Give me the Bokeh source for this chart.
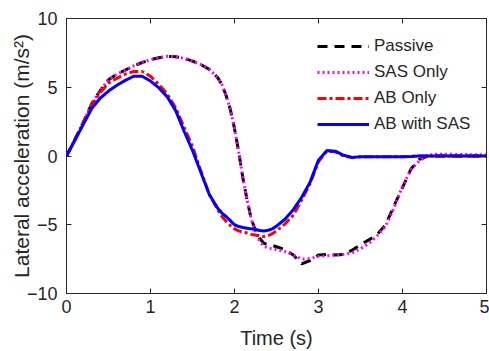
from bokeh.plotting import figure
from bokeh.models import LinearAxis, Range1d, Legend, LegendItem, FixedTicker
from bokeh.embed import file_html
from bokeh.resources import INLINE

time_s = [0, 0.1, 0.2, 0.3, 0.4, 0.5, 0.6, 0.7, 0.8, 0.9, 1.0, 1.1, 1.2, 1.3, 1.4, 1.5,
          1.6, 1.7, 1.8, 1.85, 1.9, 1.95, 2.0, 2.05, 2.1, 2.15, 2.2, 2.25, 2.3, 2.35,
          2.4, 2.45, 2.5, 2.6, 2.7, 2.8, 2.9, 3.0, 3.1, 3.2, 3.3, 3.4, 3.5, 3.6, 3.7,
          3.8, 3.9, 4.0, 4.1, 4.2, 4.3, 4.4, 4.6, 4.8, 5.0]

passive = [0, 1.2, 2.45, 3.8, 4.75, 5.55, 5.95, 6.25, 6.55, 6.8, 7.0, 7.15, 7.25, 7.22, 7.1, 6.9,
           6.65, 6.3, 5.7, 5.2, 4.4, 3.4, 2.0, 0.3, -1.6, -3.2, -4.6, -5.4, -6.0, -6.35,
           -6.45, -6.5, -6.6, -6.8, -7.2, -7.85, -7.6, -7.2, -7.15, -7.2, -7.15, -6.85, -6.45, -6.1, -5.7,
           -5.0, -3.6, -2.3, -0.95, -0.25, 0.0, 0.0, 0.0, 0.0, 0.0]

sas_only = [0, 1.2, 2.45, 3.8, 4.75, 5.55, 5.95, 6.25, 6.55, 6.8, 7.0, 7.15, 7.25, 7.22, 7.1, 6.9,
            6.65, 6.3, 5.7, 5.2, 4.4, 3.4, 2.0, 0.3, -1.6, -3.2, -4.6, -5.6, -6.2, -6.55,
            -6.7, -6.75, -6.8, -6.95, -7.2, -7.5, -7.45, -7.3, -7.25, -7.2, -7.15, -7.05, -6.75, -6.35, -5.8,
            -5.1, -3.75, -2.2, -1.0, -0.35, 0.05, 0.12, 0.12, 0.1, 0.1]

ab_only = [0, 1.2, 2.4, 3.7, 4.6, 5.3, 5.65, 5.95, 6.15, 6.15, 5.8, 5.2, 4.5, 3.5, 2.1, 0.7,
           -1.1, -2.8, -3.9, -4.4, -4.75, -5.05, -5.3, -5.45, -5.55, -5.6, -5.7, -5.75, -5.8, -5.85,
           -5.8, -5.65, -5.45, -4.95, -4.3, -3.2, -2.0, -0.4, 0.35, 0.3, 0.0, -0.12, -0.05, -0.05, -0.05,
           -0.05, -0.05, -0.05, -0.03, 0.0, 0.0, 0.0, 0.0, 0.0, 0.0]

ab_with_sas = [0, 1.15, 2.3, 3.45, 4.2, 4.72, 5.15, 5.5, 5.8, 5.8, 5.45, 4.95, 4.3, 3.3, 1.8, 0.4,
               -1.2, -2.8, -3.8, -4.15, -4.4, -4.7, -5.0, -5.13, -5.2, -5.25, -5.3, -5.35, -5.42, -5.45,
               -5.4, -5.3, -5.1, -4.6, -3.9, -3.0, -1.9, -0.3, 0.4, 0.35, 0.05, -0.1, -0.05, -0.05, -0.05,
               -0.05, -0.05, -0.05, -0.03, 0.0, 0.0, 0.0, 0.0, 0.0, 0.0]

x_ticks = [0, 1, 2, 3, 4, 5]
y_ticks = [-10, -5, 0, 5, 10]
series_labels = ["Passive", "SAS Only", "AB Only", "AB with SAS"]

FONT = "Liberation Sans"
TXT = "#262626"

p = figure(width=489, height=351, output_backend="svg", toolbar_location=None,
           x_range=Range1d(0, 5), y_range=Range1d(-10, 10),
           min_border_left=66, min_border_right=3, min_border_top=18, min_border_bottom=55)
p.grid.visible = False
p.outline_line_color = TXT
p.outline_line_width = 1
p.background_fill_color = "white"

for ax in (p.xaxis[0], p.yaxis[0]):
    ax.major_tick_in = 5
    ax.major_tick_out = 0
    ax.minor_tick_line_color = None
    ax.axis_line_color = TXT
    ax.major_tick_line_color = TXT
    ax.major_label_text_font = FONT
    ax.major_label_text_font_size = "18px"
    ax.major_label_text_color = TXT
    ax.axis_label_text_font = FONT
    ax.axis_label_text_font_size = "20px"
    ax.axis_label_text_font_style = "normal"
    ax.axis_label_text_color = TXT

p.xaxis[0].ticker = FixedTicker(ticks=x_ticks)
p.yaxis[0].ticker = FixedTicker(ticks=y_ticks)
p.xaxis[0].axis_label = "Time (s)"
p.yaxis[0].axis_label = "Lateral acceleration (m/s²)"
p.yaxis[0].axis_label_text_font_size = "21px"
p.xaxis[0].major_label_standoff = 6
p.xaxis[0].axis_label_standoff = 11
p.yaxis[0].major_label_standoff = 9
p.yaxis[0].axis_label_standoff = -9

top_ax = LinearAxis(ticker=FixedTicker(ticks=x_ticks))
right_ax = LinearAxis(ticker=FixedTicker(ticks=y_ticks))
for ax in (top_ax, right_ax):
    ax.major_tick_in = 5
    ax.major_tick_out = 0
    ax.minor_tick_line_color = None
    ax.axis_line_color = TXT
    ax.major_tick_line_color = TXT
    ax.major_label_text_font_size = "1px"
    ax.major_label_text_color = None
    ax.major_label_standoff = 0
p.add_layout(top_ax, "above")
p.add_layout(right_ax, "right")

r1 = p.line(time_s, passive, line_color="black", line_width=3, line_dash="10 7")
r2 = p.line(time_s, sas_only, line_color="#ff00ff", line_width=3, line_dash="2 3")
r3 = p.line(time_s, ab_only, line_color="#ff0000", line_width=3, line_dash="9 3 3 3")
r4 = p.line(time_s, ab_with_sas, line_color="#0000ff", line_width=3)

legend = Legend(items=[LegendItem(label=lab, renderers=[r]) for lab, r in
                       zip(series_labels, [r1, r2, r3, r4])],
                location=(251, 159), padding=0, margin=0, spacing=6,
                glyph_width=52, glyph_height=20, label_height=20, label_standoff=5,
                label_text_font=FONT, label_text_font_size="17px", label_text_color=TXT,
                border_line_alpha=0, background_fill_alpha=0)
p.add_layout(legend, "center")

open("out.html", "w").write(file_html(p, INLINE))
